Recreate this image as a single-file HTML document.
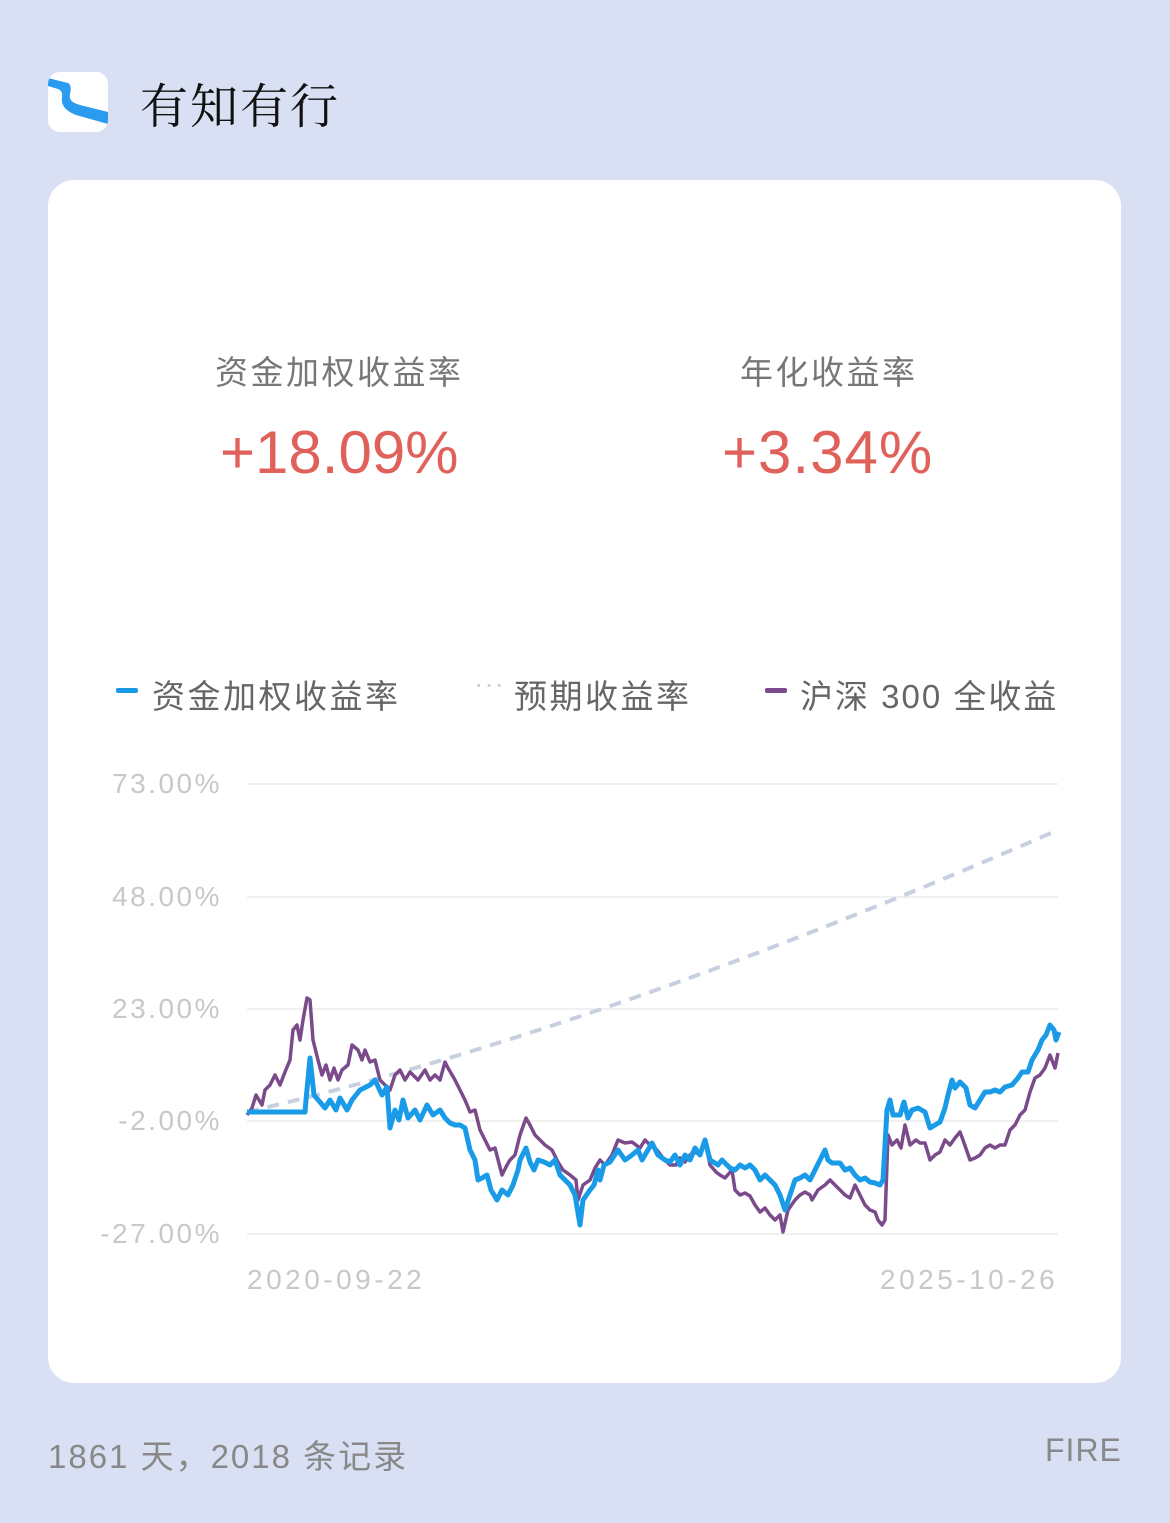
<!DOCTYPE html>
<html><head><meta charset="utf-8"><style>
body{margin:0;width:1170px;height:1523px;background:#dae0f4;font-family:"Liberation Sans","Noto Sans CJK SC",sans-serif;position:relative;overflow:hidden}
.a{position:absolute;white-space:nowrap}
.card{position:absolute;left:48px;top:180px;width:1073px;height:1203px;background:#fff;border-radius:26px}
.y{left:40px;width:182px;text-align:right;font-size:28px;color:#c8c8c8;letter-spacing:2.5px}
</style></head><body>
<div class="a" style="left:48px;top:72px;width:60px;height:60px;background:#fff;border-radius:12px;overflow:hidden">
<svg width="60" height="60"><path d="M0 6 L20 11 Q24 13 22 22 Q20 30 32 33 L60 40 L60 52 L28 43 Q12 37 14 25 Q15 19 10 17 L0 14Z" fill="#2b9bf0"/></svg></div>
<div class="a" style="left:140px;top:68px;font-size:48px;color:#111;font-family:'Noto Serif CJK SC',serif;letter-spacing:2px">有知有行</div>
<div class="card"></div>
<div class="a" style="left:215px;top:346px;font-size:33px;color:#777;letter-spacing:2.5px">资金加权收益率</div>
<div class="a" style="left:740px;top:346px;font-size:33px;color:#777;letter-spacing:2.5px">年化收益率</div>
<div class="a" style="left:220px;top:418px;font-size:60px;color:#e0605a">+18.09%</div>
<div class="a" style="left:722px;top:418px;font-size:60px;color:#e0605a;letter-spacing:1px">+3.34%</div>
<div class="a" style="left:116px;top:688px;width:22px;height:5px;background:#1a9be8;border-radius:2px"></div>
<div class="a" style="left:152px;top:670px;font-size:33px;color:#666;letter-spacing:2.5px">资金加权收益率</div>
<div class="a" style="left:474px;top:668px;font-size:28px;color:#c8d0e0;letter-spacing:1px">···</div>
<div class="a" style="left:514px;top:670px;font-size:33px;color:#666;letter-spacing:2.5px">预期收益率</div>
<div class="a" style="left:765px;top:688px;width:22px;height:5px;background:#7a4a8a;border-radius:2px"></div>
<div class="a" style="left:800px;top:670px;font-size:33px;color:#666;letter-spacing:2px">沪深 300 全收益</div>
<div class="a y" style="top:768px">73.00%</div>
<div class="a y" style="top:881px">48.00%</div>
<div class="a y" style="top:993px">23.00%</div>
<div class="a y" style="top:1105px">-2.00%</div>
<div class="a y" style="top:1218px">-27.00%</div>
<div class="a" style="left:247px;top:1264px;font-size:28px;color:#c8c8c8;letter-spacing:3.5px">2020-09-22</div>
<div class="a" style="left:880px;top:1264px;font-size:28px;color:#c8c8c8;letter-spacing:3.5px">2025-10-26</div>
<svg class="a" style="left:0;top:0" width="1170" height="1523">
<g stroke="#ececec" stroke-width="1.5"><line x1="247" x2="1058" y1="784" y2="784"/><line x1="247" x2="1058" y1="897" y2="897"/><line x1="247" x2="1058" y1="1009" y2="1009"/><line x1="247" x2="1058" y1="1121" y2="1121"/><line x1="247" x2="1058" y1="1234" y2="1234"/></g>
<path d="M247 1112 Q600 1030 1058 830" fill="none" stroke="#c8d0e0" stroke-width="4" stroke-dasharray="12 9"/>
<polyline fill="none" stroke="#7a4a8a" stroke-width="3.5" stroke-linejoin="round" points="247,1115 252,1108 256,1095 262,1105 265,1090 270,1085 275,1075 280,1085 285,1072 290,1060 293,1030 297,1025 300,1040 303,1020 307,998 310,1000 313,1040 318,1060 322,1075 326,1065 330,1080 334,1068 338,1080 342,1070 348,1065 352,1045 358,1050 362,1060 365,1050 370,1062 375,1060 380,1080 385,1085 390,1090 395,1075 400,1070 405,1080 410,1072 418,1080 425,1070 430,1080 435,1075 440,1080 445,1062 448,1068 455,1080 460,1090 465,1100 470,1112 475,1110 480,1130 485,1140 490,1150 495,1148 502,1175 507,1165 510,1160 515,1155 520,1135 526,1118 530,1125 535,1135 540,1140 545,1145 552,1150 558,1162 563,1170 570,1175 576,1180 578,1200 583,1185 590,1180 595,1168 600,1160 605,1165 612,1155 618,1140 625,1143 632,1142 640,1148 645,1140 650,1145 657,1150 663,1158 670,1165 676,1165 680,1158 685,1162 690,1155 695,1152 700,1155 705,1140 710,1165 716,1172 720,1175 725,1178 732,1170 735,1190 740,1195 745,1193 750,1196 755,1205 760,1212 765,1208 770,1215 775,1220 780,1215 783,1232 788,1210 795,1200 800,1195 805,1192 810,1195 812,1200 818,1190 825,1185 830,1180 835,1185 840,1190 845,1195 850,1198 855,1185 860,1195 865,1205 870,1210 875,1212 878,1220 882,1225 885,1220 888,1135 892,1145 897,1140 901,1148 905,1125 910,1145 916,1140 920,1143 925,1143 930,1160 935,1155 940,1152 945,1140 950,1145 955,1138 960,1132 963,1140 970,1160 975,1158 980,1155 985,1148 990,1145 995,1148 1000,1145 1005,1145 1010,1130 1015,1125 1020,1115 1025,1110 1030,1092 1035,1078 1040,1075 1045,1068 1050,1055 1055,1068 1058,1053"/>
<polyline fill="none" stroke="#1a9be8" stroke-width="5" stroke-linejoin="round" points="247,1112 305,1112 306,1100 310,1058 314,1095 325,1108 330,1100 336,1110 340,1098 347,1110 352,1100 360,1090 370,1085 375,1080 382,1095 387,1087 390,1128 395,1110 399,1120 403,1100 408,1118 415,1110 420,1120 427,1105 433,1115 440,1110 445,1118 450,1123 455,1125 460,1125 465,1128 470,1150 475,1160 478,1180 482,1178 487,1175 491,1190 497,1200 502,1190 508,1195 513,1185 518,1170 520,1160 526,1148 530,1162 534,1170 538,1160 544,1162 550,1165 555,1160 560,1175 565,1180 570,1185 575,1195 580,1225 583,1200 590,1190 594,1185 598,1170 600,1180 604,1165 610,1162 618,1150 625,1160 632,1155 638,1150 642,1160 648,1150 652,1143 658,1155 665,1160 670,1162 675,1155 680,1165 685,1155 690,1160 695,1148 700,1155 705,1140 710,1160 718,1165 722,1160 730,1168 735,1170 740,1165 745,1168 750,1165 755,1170 760,1180 765,1175 770,1180 775,1185 780,1195 785,1210 790,1195 795,1180 800,1178 805,1175 810,1180 815,1170 820,1160 825,1150 828,1160 832,1163 840,1163 845,1170 850,1168 855,1175 860,1180 865,1178 870,1182 875,1183 880,1185 883,1180 887,1110 890,1100 893,1115 900,1115 904,1102 908,1118 912,1110 918,1108 925,1112 930,1128 935,1125 940,1122 945,1108 948,1095 952,1080 955,1088 960,1082 966,1088 970,1105 975,1108 980,1100 985,1092 990,1092 995,1090 1000,1092 1005,1087 1012,1085 1018,1078 1022,1072 1028,1072 1032,1060 1038,1050 1042,1040 1046,1035 1050,1025 1054,1030 1056,1040 1059,1032"/>
</svg>
<div class="a" style="left:48px;top:1430px;font-size:33px;color:#888;letter-spacing:2px">1861 天，2018 条记录</div>
<div class="a" style="left:1045px;top:1432px;font-size:32px;color:#888;letter-spacing:1px">FIRE</div>
</body></html>
